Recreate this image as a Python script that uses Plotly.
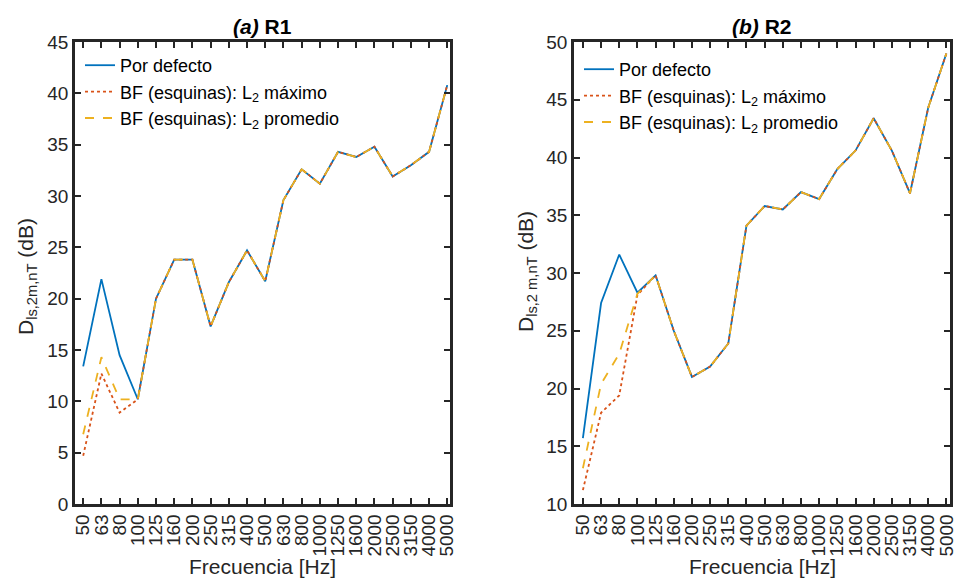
import plotly.graph_objects as go

freqs = ["50", "63", "80", "100", "125", "160", "200", "250", "315", "400", "500",
         "630", "800", "1000", "1250", "1600", "2000", "2500", "3150", "4000", "5000"]

# R1
r1_defecto = [13.4, 21.9, 14.5, 10.2, 20.0, 23.8, 23.8, 17.3, 21.6, 24.7, 21.7,
              29.6, 32.6, 31.2, 34.3, 33.8, 34.8, 31.9, 33.0, 34.3, 40.8]
r1_maximo = [4.7, 12.7, 8.9, 10.2, 20.0, 23.8, 23.8, 17.3, 21.6, 24.7, 21.7,
             29.6, 32.6, 31.2, 34.3, 33.8, 34.8, 31.9, 33.0, 34.3, 40.8]
r1_promedio = [6.8, 14.3, 10.2, 10.2, 20.0, 23.8, 23.8, 17.3, 21.6, 24.7, 21.7,
               29.6, 32.6, 31.2, 34.3, 33.8, 34.8, 31.9, 33.0, 34.3, 40.8]

# R2
r2_defecto = [15.7, 27.4, 31.6, 28.3, 29.8, 25.0, 21.0, 21.9, 23.9, 34.1, 35.8,
              35.5, 37.0, 36.4, 39.0, 40.6, 43.4, 40.6, 36.9, 44.3, 49.0]
r2_maximo = [11.2, 17.9, 19.4, 28.1, 29.8, 25.0, 21.0, 21.9, 23.9, 34.1, 35.8,
             35.5, 37.0, 36.4, 39.0, 40.6, 43.4, 40.6, 36.9, 44.3, 49.0]
r2_promedio = [13.1, 20.4, 23.0, 28.2, 29.8, 25.0, 21.0, 21.9, 23.9, 34.1, 35.8,
               35.5, 37.0, 36.4, 39.0, 40.6, 43.4, 40.6, 36.9, 44.3, 49.0]

names = ["Por defecto", "BF (esquinas): L<sub>2</sub> máximo", "BF (esquinas): L<sub>2</sub> promedio"]
colors = ["#0072BD", "#D95319", "#EDB120"]
dashes = ["solid", "dot", "dash"]

W, H = 954, 581
FONT = "Liberation Sans, Arial, sans-serif"
AX = "#262626"

fig = go.Figure()

for i, ys in enumerate([r1_defecto, r1_maximo, r1_promedio]):
    fig.add_trace(go.Scatter(x=freqs, y=ys, mode="lines", name=names[i],
                             line=dict(color=colors[i], width=1.8, dash=dashes[i]),
                             xaxis="x", yaxis="y", legend="legend"))
for i, ys in enumerate([r2_defecto, r2_maximo, r2_promedio]):
    fig.add_trace(go.Scatter(x=freqs, y=ys, mode="lines", name=names[i],
                             line=dict(color=colors[i], width=1.8, dash=dashes[i]),
                             xaxis="x2", yaxis="y2", legend="legend2"))

def px(x):
    return x / W

def py(y):
    return 1 - y / H

common_x = dict(type="category", tickangle=-90, ticks="inside", ticklen=6, tickwidth=1.5,
                tickcolor=AX, showline=True, linecolor=AX, linewidth=2.5, mirror="ticks",
                showgrid=False, zeroline=False, tickfont=dict(family=FONT, size=19, color=AX),
                categoryorder="array", categoryarray=freqs, tickmode="array", tickvals=freqs,
                ticktext=freqs)
common_y = dict(ticks="inside", ticklen=6, tickwidth=1.5, tickcolor=AX, showline=True,
                linecolor=AX, linewidth=2.5, mirror="ticks", showgrid=False, zeroline=False,
                tickfont=dict(family=FONT, size=19, color=AX))

fig.update_layout(
    width=W, height=H,
    margin=dict(l=0, r=0, t=0, b=0, autoexpand=False),
    paper_bgcolor="white", plot_bgcolor="white",
    xaxis=dict(domain=[px(75), px(450)], range=[-0.45, 20.15], anchor="y", **common_x),
    yaxis=dict(domain=[py(504), py(42)], range=[0, 45], dtick=5, anchor="x", **common_y),
    xaxis2=dict(domain=[px(574), px(950)], range=[-0.49, 20.2], anchor="y2", **common_x),
    yaxis2=dict(domain=[py(504), py(42)], range=[10, 50], dtick=5, anchor="x2", **common_y),
    legend=dict(x=px(80), y=py(47), xanchor="left", yanchor="top", bgcolor="rgba(0,0,0,0)",
                font=dict(family=FONT, size=18, color="#000000"), tracegroupgap=0),
    legend2=dict(x=px(579), y=py(51), xanchor="left", yanchor="top", bgcolor="rgba(0,0,0,0)",
                 font=dict(family=FONT, size=18, color="#000000"), tracegroupgap=0),
    showlegend=True,
)

annotations = [
    dict(text="<b><i>(a)</i> R1</b>", x=px(262.5), y=py(27), xref="paper", yref="paper",
         xanchor="center", yanchor="middle", showarrow=False,
         font=dict(family=FONT, size=21, color="#000000")),
    dict(text="<b><i>(b)</i> R2</b>", x=px(762), y=py(27), xref="paper", yref="paper",
         xanchor="center", yanchor="middle", showarrow=False,
         font=dict(family=FONT, size=21, color="#000000")),
    dict(text="Frecuencia [Hz]", x=px(262.5), y=py(566), xref="paper", yref="paper",
         xanchor="center", yanchor="middle", showarrow=False,
         font=dict(family=FONT, size=21, color=AX)),
    dict(text="Frecuencia [Hz]", x=px(762), y=py(566), xref="paper", yref="paper",
         xanchor="center", yanchor="middle", showarrow=False,
         font=dict(family=FONT, size=21, color=AX)),
    dict(text="D<sub>ls,2m,nT</sub> (dB)", x=px(27), y=py(277), xref="paper", yref="paper",
         xanchor="center", yanchor="middle", showarrow=False, textangle=-90,
         font=dict(family=FONT, size=21, color=AX)),
    dict(text="D<sub>ls,2 m,nT</sub> (dB)", x=px(527), y=py(272), xref="paper", yref="paper",
         xanchor="center", yanchor="middle", showarrow=False, textangle=-90,
         font=dict(family=FONT, size=21, color=AX)),
]
fig.update_layout(annotations=annotations)

fig.write_html("out.html", config={"displayModeBar": False},
               post_script="document.body.style.margin='0px';document.body.style.overflow='hidden';")
